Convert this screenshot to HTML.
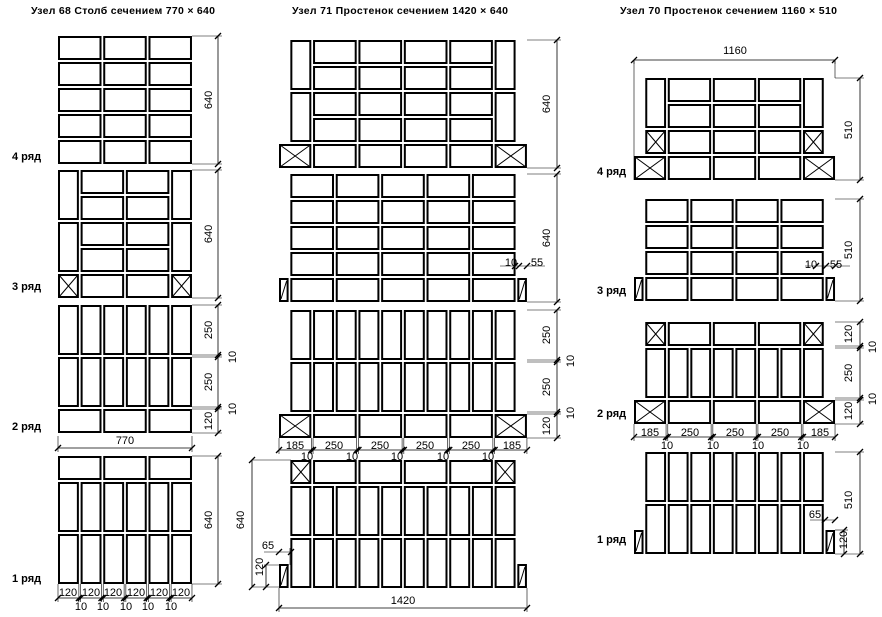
<!DOCTYPE html>
<html><head><meta charset="utf-8">
<style>
html,body{margin:0;padding:0;background:#fff;}
svg{display:block;}
text{font-family:"Liberation Sans",sans-serif;font-size:11px;fill:#000;}
.t{font-size:10.5px;font-weight:bold;}
.r{font-size:11px;font-weight:bold;}
</style></head>
<body>
<svg id="s" width="882" height="617" viewBox="0 0 882 617" xmlns="http://www.w3.org/2000/svg">
<g id="g" fill="none" stroke="#000"></g>
<text class="t" x="31" y="14" textLength="184" lengthAdjust="spacing">Узел 68 Столб сечением 770 × 640</text>
<text class="t" x="292" y="14" textLength="216" lengthAdjust="spacing">Узел 71 Простенок сечением 1420 × 640</text>
<text class="t" x="620" y="14" textLength="217" lengthAdjust="spacing">Узел 70 Простенок сечением 1160 × 510</text>
<text class="r" x="12" y="160">4 ряд</text>
<text class="r" x="12" y="290">3 ряд</text>
<text class="r" x="12" y="430">2 ряд</text>
<text class="r" x="12" y="582">1 ряд</text>
<text class="r" x="597" y="175">4 ряд</text>
<text class="r" x="597" y="294">3 ряд</text>
<text class="r" x="597" y="417">2 ряд</text>
<text class="r" x="597" y="543">1 ряд</text>
<g text-anchor="middle">
<!-- panel1 -->
<text transform="translate(212,100) rotate(-90)">640</text>
<text transform="translate(212,234) rotate(-90)">640</text>
<text transform="translate(212,330) rotate(-90)">250</text>
<text transform="translate(212,382) rotate(-90)">250</text>
<text transform="translate(212,421) rotate(-90)">120</text>
<text transform="translate(236,357) rotate(-90)">10</text>
<text transform="translate(236,409) rotate(-90)">10</text>
<text transform="translate(212,520) rotate(-90)">640</text>
<text x="125" y="444">770</text>
<text x="68" y="596">120</text><text x="91" y="596">120</text><text x="113" y="596">120</text><text x="136" y="596">120</text><text x="159" y="596">120</text><text x="181" y="596">120</text>
<text x="81" y="610">10</text><text x="103" y="610">10</text><text x="126" y="610">10</text><text x="148" y="610">10</text><text x="171" y="610">10</text>
<!-- panel2 -->
<text transform="translate(550,104) rotate(-90)">640</text>
<text transform="translate(550,238) rotate(-90)">640</text>
<text transform="translate(550,335) rotate(-90)">250</text>
<text transform="translate(550,387) rotate(-90)">250</text>
<text transform="translate(550,426) rotate(-90)">120</text>
<text transform="translate(574,361) rotate(-90)">10</text>
<text transform="translate(574,413) rotate(-90)">10</text>
<text transform="translate(244,520) rotate(-90)">640</text>
<text transform="translate(263,567) rotate(-90)">120</text>
<text x="268" y="549">65</text>
<text x="403" y="604">1420</text>
<text x="511" y="266">10</text><text x="537" y="266">55</text>
<text x="295" y="449">185</text><text x="334" y="449">250</text><text x="380" y="449">250</text><text x="425" y="449">250</text><text x="471" y="449">250</text><text x="512" y="449">185</text>
<text x="307" y="460">10</text><text x="352" y="460">10</text><text x="397" y="460">10</text><text x="443" y="460">10</text><text x="488" y="460">10</text>
<!-- panel3 -->
<text x="735" y="54">1160</text>
<text transform="translate(852,130) rotate(-90)">510</text>
<text transform="translate(852,250) rotate(-90)">510</text>
<text transform="translate(852,334) rotate(-90)">120</text>
<text transform="translate(852,373) rotate(-90)">250</text>
<text transform="translate(852,411) rotate(-90)">120</text>
<text transform="translate(876,347) rotate(-90)">10</text>
<text transform="translate(876,399) rotate(-90)">10</text>
<text transform="translate(852,500) rotate(-90)">510</text>
<text transform="translate(847,540) rotate(-90)">120</text>
<text x="815" y="518">65</text>
<text x="811" y="268">10</text><text x="836" y="268">55</text>
<text x="650" y="436">185</text><text x="690" y="436">250</text><text x="735" y="436">250</text><text x="780" y="436">250</text><text x="820" y="436">185</text>
<text x="667" y="449">10</text><text x="713" y="449">10</text><text x="758" y="449">10</text><text x="803" y="449">10</text>
</g>
</svg>
<script>
var g=document.getElementById('g'),NS='http://www.w3.org/2000/svg';
function el(n,a){var e=document.createElementNS(NS,n);for(var k in a)e.setAttribute(k,a[k]);g.appendChild(e);return e;}
function L(x1,y1,x2,y2,w){el('line',{x1:x1,y1:y1,x2:x2,y2:y2,'stroke-width':w||0.8});}
function tick(x,y){L(x-3,y+3,x+3,y-3,1.3);}
function draw(x0,y0,sx,sy,B){B.forEach(function(b){var x=x0+b[0]*sx+1,y=y0+b[1]*sy+1,w=b[2]*sx-2,h=b[3]*sy-2;
el('rect',{x:x,y:y,width:w,height:h,'stroke-width':2});
if(b[4]==1){L(x,y,x+w,y+h,1);L(x,y+h,x+w,y,1);}
if(b[4]==2){L(x+1,y+h-2,x+w-1,y+2,1);}});}
function S(a,x,y){a.push([x,y,250,120]);} function H(a,x,y){a.push([x,y,120,250]);}
var a,c,i;
var P1=[0.174,0.2];
a=[];for(c=0;c<5;c++)for(i=0;i<3;i++)S(a,260*i,130*c);draw(58,36,P1[0],P1[1],a);
a=[[0,0,120,250],[0,260,120,250],[0,520,120,120,1],[650,0,120,250],[650,260,120,250],[650,520,120,120,1]];
for(c=0;c<5;c++){S(a,130,130*c);S(a,390,130*c);}draw(58,170,P1[0],P1[1],a);
a=[];[0,260].forEach(function(y){for(i=0;i<6;i++)H(a,130*i,y);});for(i=0;i<3;i++)S(a,260*i,520);draw(58,305,P1[0],P1[1],a);
a=[];for(i=0;i<3;i++)S(a,260*i,0);[130,390].forEach(function(y){for(i=0;i<6;i++)H(a,130*i,y);});draw(58,456,P1[0],P1[1],a);
var sx2=0.1746;
a=[[65,0,120,250],[65,260,120,250],[0,520,185,120,1],[1235,0,120,250],[1235,260,120,250],[1235,520,185,120,1]];
for(c=0;c<5;c++)for(i=0;i<4;i++)S(a,195+260*i,130*c);draw(279,40,sx2,0.2,a);
a=[[0,520,55,120,2],[1365,520,55,120,2]];for(c=0;c<5;c++)for(i=0;i<5;i++)S(a,65+260*i,130*c);draw(279,174,sx2,0.2,a);
a=[[0,520,185,120,1],[1235,520,185,120,1]];[0,260].forEach(function(y){for(i=0;i<10;i++)H(a,65+130*i,y);});for(i=0;i<4;i++)S(a,195+260*i,520);draw(279,310,sx2,0.2,a);
a=[[65,0,120,120,1],[1235,0,120,120,1],[0,520,55,120,2],[1365,520,55,120,2]];for(i=0;i<4;i++)S(a,195+260*i,0);[130,390].forEach(function(y){for(i=0;i<10;i++)H(a,65+130*i,y);});draw(279,460,sx2,0.2,a);
var sx3=0.1733;
a=[[65,0,120,250],[65,260,120,120,1],[0,390,185,120,1],[975,0,120,250],[975,260,120,120,1],[975,390,185,120,1]];
for(c=0;c<4;c++)for(i=0;i<3;i++)S(a,195+260*i,130*c);draw(634,78,sx3,0.2,a);
a=[[0,390,55,120,2],[1105,390,55,120,2]];for(c=0;c<4;c++)for(i=0;i<4;i++)S(a,65+260*i,130*c);draw(634,199,sx3,0.2,a);
a=[[65,0,120,120,1],[975,0,120,120,1],[0,390,185,120,1],[975,390,185,120,1]];for(i=0;i<3;i++){S(a,195+260*i,0);S(a,195+260*i,390);}for(i=0;i<8;i++)H(a,65+130*i,130);draw(634,322,sx3,0.2,a);
a=[[0,390,55,120,2],[1105,390,55,120,2]];[0,260].forEach(function(y){for(i=0;i<8;i++)H(a,65+130*i,y);});draw(634,452,sx3,0.2,a);
function vd(x,xs,ys){L(x,ys[0],x,ys[ys.length-1]);ys.forEach(function(y){L(xs,y,x+4,y,0.6);tick(x,y);});}
vd(218,192,[36,164]);vd(218,192,[170,298]);vd(218,192,[305,355,357,407,409,433]);vd(218,192,[456,584]);
vd(557,527,[40,168]);vd(557,527,[174,302]);vd(557,527,[310,360,362,412,414,438]);
vd(860,835,[78,180]);vd(860,835,[199,301]);vd(860,835,[322,346,348,398,400,424]);vd(860,835,[452,554]);
function hd(y,ye,xs){L(xs[0],y,xs[xs.length-1],y);xs.forEach(function(x){L(x,ye,x,y+4,0.6);tick(x,y);});}
var xs=[];for(i=0;i<6;i++){xs.push(58+130*i*0.174);xs.push(58+(130*i+120)*0.174);}hd(598,584,xs);
hd(448,436,[58,192]);
hd(450,438,[0,185,195,445,455,705,715,965,975,1225,1235,1420].map(function(m){return 279+m*sx2;}));
hd(608,588,[279,527]);
hd(437,424,[0,185,195,445,455,705,715,965,975,1160].map(function(m){return 634+m*sx3;}));
hd(60,60,[634,835]);L(634,60,634,180,0.6);L(835,60,835,78,0.6);
L(252,460,252,587);tick(252,460);tick(252,587);L(252,460,291,460,0.6);L(252,587,279,587,0.6);
L(266,565,266,587);tick(266,565);tick(266,587);L(264,565,289,565,0.6);
L(264,552,291,552,0.6);tick(279,552);tick(291,552);
L(290,548,290,565,0.6);
L(500,266,545,266,0.6);tick(515,266);tick(519,266);tick(527,266);
L(805,266,850,266,0.6);tick(816,266);tick(826,266);tick(835,266);
L(810,520,835,520,0.6);tick(825,520);tick(835,520);
L(844,530,844,554);tick(844,530);tick(844,554);L(835,530,848,530,0.6);
</script>
</body></html>
